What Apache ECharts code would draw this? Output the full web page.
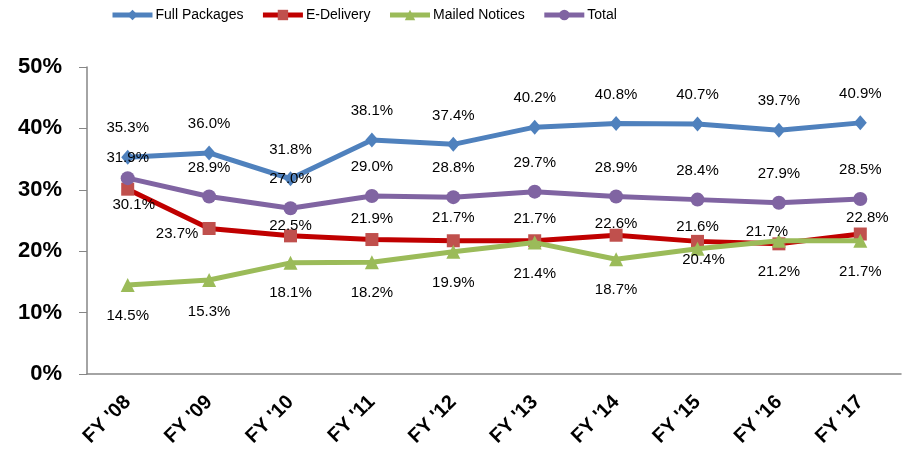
<!DOCTYPE html>
<html>
<head>
<meta charset="utf-8">
<script src="https://cdn.jsdelivr.net/npm/echarts@6/dist/echarts.min.js"></script>
<style>
html,body{margin:0;padding:0;background:#fff;}
#c{width:903px;height:476px;}
</style>
</head>
<body>
<div id="c"></div>
<script>
const categories = ["FY '08","FY '09","FY '10","FY '11","FY '12","FY '13","FY '14","FY '15","FY '16","FY '17"];
const fullPackages = [35.3, 36.0, 31.8, 38.1, 37.4, 40.2, 40.8, 40.7, 39.7, 40.9];
const eDelivery = [30.1, 23.7, 22.5, 21.9, 21.7, 21.7, 22.6, 21.6, 21.2, 22.8];
const mailedNotices = [14.5, 15.3, 18.1, 18.2, 19.9, 21.4, 18.7, 20.4, 21.7, 21.7];
const total = [31.9, 28.9, 27.0, 29.0, 28.8, 29.7, 28.9, 28.4, 27.9, 28.5];
const yTicks = [0, 10, 20, 30, 40, 50];

// label offsets (layout only)
const offFull = categories.map(() => [0, -29]);
const offTotal = categories.map((c, i) => i === 0 ? [0, -20] : [0, -29]);
const offE = [[6,16],[-32,5],[0,-10],[0,-21],[0,-23],[0,-22],[0,-11],[0,-15],[0,28],[7,-16]];
const offM = [[0,31],[0,32],[0,30],[0,31],[0,31],[0,31],[0,31],[6,11],[-12,-9],[0,31]];

const labelFont = {fontFamily: 'Liberation Sans, Arial, sans-serif', fontSize: 15, color: '#000'};

function mk(vals, offs) {
  return vals.map((v, i) => ({value: v, label: {offset: offs[i]}}));
}
function lbl() {
  return Object.assign({show: true, position: 'inside', align: 'center', verticalAlign: 'middle',
    formatter: p => p.value.toFixed(1) + '%'}, labelFont);
}

const chart = echarts.init(document.getElementById('c'), null, {renderer: 'canvas'});
chart.setOption({
  animation: false,
  legend: {
    top: 8, left: 110, padding: 0, itemWidth: 40, itemHeight: 13, itemGap: 17,
    lineStyle: {width: 5},
    textStyle: {fontFamily: 'Liberation Sans, Arial, sans-serif', fontSize: 14, color: '#000', padding: [0, 0, 0, -2]},
    data: ['Full Packages', 'E-Delivery', 'Mailed Notices', 'Total']
  },
  grid: {left: 87, right: 2, top: 67, bottom: 102, containLabel: false},
  xAxis: {
    type: 'category', data: categories, boundaryGap: true,
    axisLine: {lineStyle: {color: '#868686', width: 1.5}},
    axisTick: {show: false},
    axisLabel: {rotate: 45, margin: 25, fontFamily: 'Liberation Sans, Arial, sans-serif', fontWeight: 'bold', fontSize: 20, color: '#000', interval: 0}
  },
  yAxis: {
    type: 'value', min: yTicks[0], max: yTicks[yTicks.length - 1], interval: 10,
    axisLine: {show: true, lineStyle: {color: '#868686', width: 1.5}},
    axisTick: {show: true, length: 8, lineStyle: {color: '#868686'}},
    splitLine: {show: false},
    axisLabel: {margin: 25, formatter: '{value}%', fontFamily: 'Liberation Sans, Arial, sans-serif', fontWeight: 'bold', fontSize: 22, color: '#000'}
  },
  series: [
    {name: 'Full Packages', type: 'line', data: mk(fullPackages, offFull), symbol: 'diamond', symbolSize: [13, 15],
      lineStyle: {color: '#4F81BD', width: 5}, itemStyle: {color: '#4F81BD'}, label: lbl(), z: 2},
    {name: 'E-Delivery', type: 'line', data: mk(eDelivery, offE), symbol: 'rect', symbolSize: 13,
      lineStyle: {color: '#C00000', width: 5}, itemStyle: {color: '#C0504D'}, label: lbl(), z: 3},
    {name: 'Mailed Notices', type: 'line', data: mk(mailedNotices, offM), symbol: 'triangle', symbolSize: 14,
      lineStyle: {color: '#9BBB59', width: 5}, itemStyle: {color: '#9BBB59'}, label: lbl(), z: 4},
    {name: 'Total', type: 'line', data: mk(total, offTotal), symbol: 'circle', symbolSize: 14,
      lineStyle: {color: '#8064A2', width: 5}, itemStyle: {color: '#8064A2'}, label: lbl(), z: 5}
  ]
});
</script>
</body>
</html>
